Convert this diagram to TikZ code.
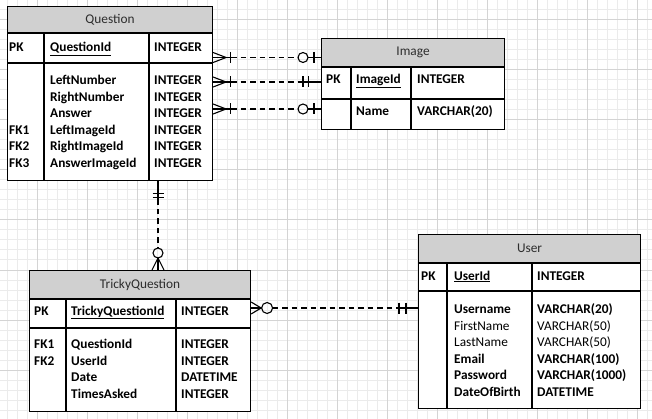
\documentclass[tikz,border=0pt]{standalone}
\usepackage{fontspec}
\setmainfont{Carlito}
\usetikzlibrary{calc}
\definecolor{headgray}{RGB}{208,208,208}
\definecolor{minorline}{RGB}{235,235,235}
\definecolor{majorline}{RGB}{212,212,212}
\definecolor{titletext}{RGB}{45,45,45}
\tikzset{
  tablebox/.style={draw=black, line width=1.1pt, fill=white, rectangle, inner sep=0pt, anchor=north west},
  headbox/.style={tablebox, fill=headgray, text=titletext},
  cell/.style={anchor=base west, inner sep=0pt, font=\bfseries},
  plaincell/.style={anchor=base west, inner sep=0pt},
  relsolid/.style={line width=1.1pt},
  reldash/.style={line width=1.1pt, dash pattern=on 5.5pt off 4pt},
}
\begin{document}
\begin{tikzpicture}[x=1pt,y=-1pt]
                \useasboundingbox (0,0) rectangle (652,419);
                {\fontsize{13.33}{16}\selectfont

                % Drawing background grid
                \foreach \x in {7,17,...,647} \draw [minorline, line width=1pt] (\x,0) -- (\x,419);
                \foreach \y in {0,10,...,410} \draw [minorline, line width=1pt] (0,\y) -- (652,\y);
                \foreach \x in {37,87,...,637} \draw [majorline, line width=1pt] (\x,0) -- (\x,419);
                \foreach \y in {20,70,...,370} \draw [majorline, line width=1pt] (0,\y) -- (652,\y);

                % Drawing table Question
                \node [headbox, minimum width=205pt, minimum height=26pt] (qhead) at (7,6) {Question};
                \node [tablebox, minimum width=205pt, minimum height=29pt] (qpk) at (qhead.south west) {};
                \node [tablebox, minimum width=205pt, minimum height=117pt] (qbody) at (qpk.south west) {};
                \draw [relsolid] (qpk.north -| 44,0) -- (qbody.south -| 44,0);
                \draw [relsolid] (qpk.north -| 149,0) -- (qbody.south -| 149,0);
                \node [cell] (q-pk) at (9,52) {PK};
                \node [cell] (q-id) at (50,52) {\underline{QuestionId}};
                \node [cell] (q-idtype) at (154,52) {INTEGER};
                \node [cell] (q-left) at (50,85) {LeftNumber};
                \node [cell] (q-lefttype) at (154,85) {INTEGER};
                \node [cell] (q-right) at (50,101.5) {RightNumber};
                \node [cell] (q-righttype) at (154,101.5) {INTEGER};
                \node [cell] (q-answer) at (50,118) {Answer};
                \node [cell] (q-answertype) at (154,118) {INTEGER};
                \node [cell] (q-fk1) at (9,134.5) {FK1};
                \node [cell] (q-limg) at (50,134.5) {LeftImageId};
                \node [cell] (q-limgtype) at (154,134.5) {INTEGER};
                \node [cell] (q-fk2) at (9,151) {FK2};
                \node [cell] (q-rimg) at (50,151) {RightImageId};
                \node [cell] (q-rimgtype) at (154,151) {INTEGER};
                \node [cell] (q-fk3) at (9,167.5) {FK3};
                \node [cell] (q-aimg) at (50,167.5) {AnswerImageId};
                \node [cell] (q-aimgtype) at (154,167.5) {INTEGER};

                % Drawing table Image
                \node [headbox, minimum width=183pt, minimum height=28pt] (ihead) at (321,38) {Image};
                \node [tablebox, minimum width=183pt, minimum height=31pt] (ipk) at (ihead.south west) {};
                \node [tablebox, minimum width=183pt, minimum height=30pt] (ibody) at (ipk.south west) {};
                \draw [relsolid] (ipk.north -| 351,0) -- (ibody.south -| 351,0);
                \draw [relsolid] (ipk.north -| 411,0) -- (ibody.south -| 411,0);
                \node [cell] (i-pk) at (326,84) {PK};
                \node [cell] (i-id) at (356,84) {\underline{ImageId}};
                \node [cell] (i-idtype) at (417,84) {INTEGER};
                \node [cell] (i-name) at (356,116) {Name};
                \node [cell] (i-nametype) at (417,116) {VARCHAR(20)};

                % Drawing table TrickyQuestion
                \node [headbox, minimum width=221pt, minimum height=28pt] (thead) at (29,270) {TrickyQuestion};
                \node [tablebox, minimum width=221pt, minimum height=28pt] (tpk) at (thead.south west) {};
                \node [tablebox, minimum width=221pt, minimum height=83pt] (tbody) at (tpk.south west) {};
                \draw [relsolid] (tpk.north -| 66,0) -- (tbody.south -| 66,0);
                \draw [relsolid] (tpk.north -| 176,0) -- (tbody.south -| 176,0);
                \node [cell] (t-pk) at (34,315) {PK};
                \node [cell] (t-id) at (71,315) {\underline{TrickyQuestionId}};
                \node [cell] (t-idtype) at (181,315) {INTEGER};
                \node [cell] (t-fk1) at (34,348.5) {FK1};
                \node [cell] (t-question) at (71,348.5) {QuestionId};
                \node [cell] (t-questiontype) at (181,348.5) {INTEGER};
                \node [cell] (t-fk2) at (34,365) {FK2};
                \node [cell] (t-user) at (71,365) {UserId};
                \node [cell] (t-usertype) at (181,365) {INTEGER};
                \node [cell] (t-date) at (71,381.5) {Date};
                \node [cell] (t-datetype) at (181,381.5) {DATETIME};
                \node [cell] (t-times) at (71,398) {TimesAsked};
                \node [cell] (t-timestype) at (181,398) {INTEGER};

                % Drawing table User
                \node [headbox, minimum width=222pt, minimum height=28pt] (uhead) at (418,234) {User};
                \node [tablebox, minimum width=222pt, minimum height=27pt] (upk) at (uhead.south west) {};
                \node [tablebox, minimum width=222pt, minimum height=117pt] (ubody) at (upk.south west) {};
                \draw [relsolid] (upk.north -| 447,0) -- (ubody.south -| 447,0);
                \draw [relsolid] (upk.north -| 532,0) -- (ubody.south -| 532,0);
                \node [cell] (u-pk) at (421,280) {PK};
                \node [cell] (u-id) at (454,280) {\underline{UserId}};
                \node [cell] (u-idtype) at (537,280) {INTEGER};
                \node [cell] (u-username) at (454,313.5) {Username};
                \node [cell] (u-usernametype) at (537,313.5) {VARCHAR(20)};
                \node [plaincell] (u-first) at (454,330) {FirstName};
                \node [plaincell] (u-firsttype) at (537,330) {VARCHAR(50)};
                \node [plaincell] (u-last) at (454,346.5) {LastName};
                \node [plaincell] (u-lasttype) at (537,346.5) {VARCHAR(50)};
                \node [cell] (u-email) at (454,363) {Email};
                \node [cell] (u-emailtype) at (537,363) {VARCHAR(100)};
                \node [cell] (u-password) at (454,379.5) {Password};
                \node [cell] (u-passwordtype) at (537,379.5) {VARCHAR(1000)};
                \node [cell] (u-birth) at (454,396) {DateOfBirth};
                \node [cell] (u-birthtype) at (537,396) {DATETIME};

                % Drawing relation Question - Image (first)
                \coordinate (qa) at (qpk.east |- 0,57.5);
                \coordinate (ia) at (ihead.west |- 0,57.5);
                \draw [relsolid] ($(qa)+(0,-5)$) -- ($(qa)+(13,0)$) -- ($(qa)+(0,5)$);
                \draw [relsolid] (qa) -- ($(qa)+(18,0)$);
                \draw [relsolid] ($(qa)+(17,-5.5)$) -- ($(qa)+(17,5.5)$);
                \draw [reldash] ($(qa)+(18,0)$) -- ($(ia)+(-23,0)$);
                \draw [relsolid] ($(ia)+(-18,0)$) circle [radius=5pt];
                \draw [relsolid] ($(ia)+(-13,0)$) -- (ia);
                \draw [relsolid] ($(ia)+(-7,-5.5)$) -- ($(ia)+(-7,5.5)$);

                % Drawing relation Question - Image (second)
                \coordinate (qb) at (qbody.east |- 0,82);
                \coordinate (ib) at (ipk.west |- 0,82);
                \draw [relsolid] ($(qb)+(0,-5)$) -- ($(qb)+(13,0)$) -- ($(qb)+(0,5)$);
                \draw [relsolid] (qb) -- ($(qb)+(18,0)$);
                \draw [relsolid] ($(qb)+(17,-5.5)$) -- ($(qb)+(17,5.5)$);
                \draw [reldash] ($(qb)+(18,0)$) -- ($(ib)+(-21,0)$);
                \draw [relsolid] ($(ib)+(-21,0)$) -- (ib);
                \draw [relsolid] ($(ib)+(-18,-5.5)$) -- ($(ib)+(-18,5.5)$);
                \draw [relsolid] ($(ib)+(-12.5,-5.5)$) -- ($(ib)+(-12.5,5.5)$);

                % Drawing relation Question - Image (third)
                \coordinate (qc) at (qbody.east |- 0,109);
                \coordinate (ic) at (ibody.west |- 0,109);
                \draw [relsolid] ($(qc)+(0,-5)$) -- ($(qc)+(13,0)$) -- ($(qc)+(0,5)$);
                \draw [relsolid] (qc) -- ($(qc)+(18,0)$);
                \draw [relsolid] ($(qc)+(17,-5.5)$) -- ($(qc)+(17,5.5)$);
                \draw [reldash] ($(qc)+(18,0)$) -- ($(ic)+(-23,0)$);
                \draw [relsolid] ($(ic)+(-18,0)$) circle [radius=5pt];
                \draw [relsolid] ($(ic)+(-13,0)$) -- (ic);
                \draw [relsolid] ($(ic)+(-7,-5.5)$) -- ($(ic)+(-7,5.5)$);

                % Drawing relation Question - TrickyQuestion
                \coordinate (qd) at (qbody.south -| 158,0);
                \coordinate (td) at (thead.north -| 158,0);
                \draw [relsolid] (qd) -- ($(qd)+(0,18)$);
                \draw [relsolid] ($(qd)+(-5.5,12)$) -- ($(qd)+(5.5,12)$);
                \draw [relsolid] ($(qd)+(-5.5,16)$) -- ($(qd)+(5.5,16)$);
                \draw [reldash] ($(qd)+(0,18)$) -- ($(td)+(0,-22)$);
                \draw [relsolid] ($(td)+(0,-17)$) circle [radius=5pt];
                \draw [relsolid] ($(td)+(-6,0)$) -- ($(td)+(0,-12)$) -- ($(td)+(6,0)$);
                \draw [relsolid] ($(td)+(0,-12)$) -- (td);

                % Drawing relation TrickyQuestion - User
                \coordinate (te) at (tpk.east |- 0,308);
                \coordinate (ue) at (ubody.west |- 0,308);
                \draw [relsolid] ($(te)+(0,-6)$) -- ($(te)+(10,0)$) -- ($(te)+(0,6)$);
                \draw [relsolid] (te) -- ($(te)+(10,0)$);
                \draw [relsolid] ($(te)+(16,0)$) circle [radius=5.5pt];
                \draw [reldash] ($(te)+(21.5,0)$) -- ($(ue)+(-22,0)$);
                \draw [relsolid] ($(ue)+(-22,0)$) -- (ue);
                \draw [relsolid] ($(ue)+(-19,-5.5)$) -- ($(ue)+(-19,5.5)$);
                \draw [relsolid] ($(ue)+(-12,-5.5)$) -- ($(ue)+(-12,5.5)$);
                }
\end{tikzpicture}
\end{document}
